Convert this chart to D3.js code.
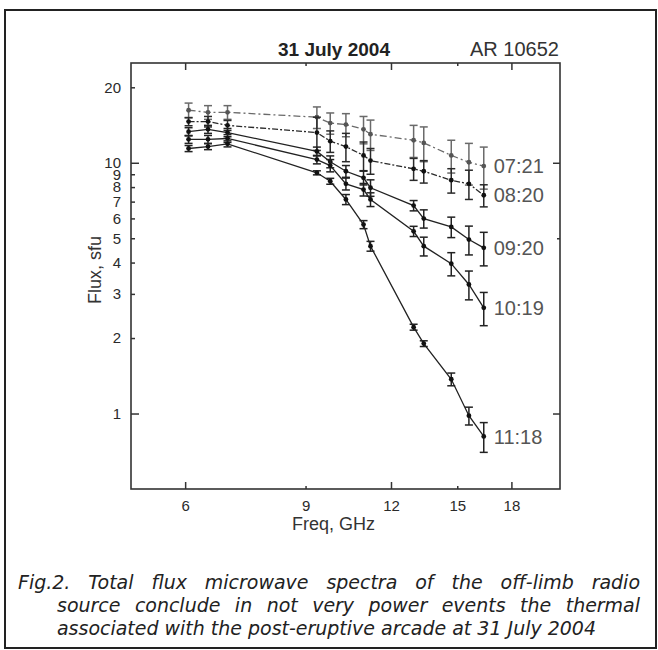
<!DOCTYPE html>
<html>
<head>
<meta charset="utf-8">
<script src="https://cdn.jsdelivr.net/npm/d3@7"></script>
<style>
  body { margin: 0; background: #fff; }
  svg { display: block; }
  text { font-family: "Liberation Sans", Arial, sans-serif; }
</style>
</head>
<body>
<svg id="chart" width="658" height="650"></svg>
<script>
// frequencies, GHz
let freqs = [6.07, 6.48, 6.92, 9.35, 9.78, 10.31, 10.94, 11.2, 12.95, 13.4, 14.7, 15.6, 16.4];

// flux, sfu, one array per time
let seriesNames = ["07:21", "08:20", "09:20", "10:19", "11:18"];
let flux0721 = [16.2, 15.9, 15.9, 15.2, 14.4, 14.2, 13.6, 13.0, 12.3, 12.0, 10.7, 10.05, 9.7];
let flux0820 = [14.6, 14.6, 14.1, 13.2, 12.2, 11.6, 10.7, 10.2, 9.46, 9.25, 8.52, 8.24, 7.42];
let flux0920 = [13.3, 13.6, 13.2, 11.1, 10.1, 9.25, 8.71, 7.95, 6.75, 5.99, 5.55, 4.94, 4.58];
let flux1019 = [12.4, 12.4, 12.5, 10.3, 9.75, 8.24, 7.82, 7.14, 5.33, 4.65, 3.96, 3.27, 2.64];
let flux1118 = [11.4, 11.6, 11.9, 9.12, 8.44, 7.14, 5.67, 4.65, 2.21, 1.90, 1.37, 0.98, 0.81];

// error (+/- sfu)
let err0721 = [1.1, 1.0, 1.0, 1.5, 1.4, 1.5, 1.7, 1.8, 1.8, 1.9, 1.6, 1.9, 1.85];
let err0820 = [0.55, 0.7, 0.65, 2.0, 1.2, 1.5, 1.4, 1.2, 0.95, 0.95, 0.95, 1.1, 0.75];
let err0920 = [0.5, 0.5, 0.5, 0.45, 0.55, 0.5, 0.55, 0.6, 0.32, 0.5, 0.52, 0.65, 0.7];
let err1019 = [0.45, 0.45, 0.45, 0.4, 0.55, 0.45, 0.45, 0.45, 0.25, 0.4, 0.42, 0.43, 0.4];
let err1118 = [0.32, 0.32, 0.33, 0.17, 0.23, 0.33, 0.21, 0.21, 0.06, 0.05, 0.08, 0.08, 0.11];

let xTicks = [6, 9, 12, 15, 18];
let xMajor = [6, 12, 18];
let yTicks = [1, 2, 3, 4, 5, 6, 7, 8, 9, 10, 20];
let yMajor = [1, 10];
let yRightTicks = [1, 5, 10];

let captionLines = [
  "Fig.2. Total flux microwave spectra of the off-limb radio",
  "source conclude in not very power events the thermal",
  "associated with the post-eruptive arcade at 31 July 2004"
];

let allFlux = [flux0721, flux0820, flux0920, flux1019, flux1118];
let allErr = [err0721, err0820, err0920, err1019, err1118];

let lineColor = ["#6a6a6a", "#2a2a2a", "#222", "#222", "#222"];
let lineDash = ["7,3,2,3", "6,2,2,2", null, null, null];

let pLeft = 131, pRight = 560, pTop = 63, pBottom = 489;

let svg = d3.select('#chart');

// outer frame
svg.append('rect')
  .attr('x', 5).attr('y', 10)
  .attr('width', 651).attr('height', 638)
  .style('fill', 'none')
  .style('stroke', '#222')
  .style('stroke-width', '2px');

let x = d3.scaleLog().domain([5, 21.2]).range([pLeft, pRight]);
let y = d3.scaleLog().domain([0.5, 25]).range([pBottom, pTop]);

// axes
let gLeft = svg.append('g')
  .attr('transform', `translate(${pLeft},0)`)
  .call(d3.axisLeft(y).tickValues(yTicks).tickFormat(d3.format('d')).tickSize(-4).tickPadding(10));
gLeft.selectAll('.tick line').attr('x2', d => yMajor.includes(d) ? 8 : 4);

let gRight = svg.append('g')
  .attr('transform', `translate(${pRight},0)`)
  .call(d3.axisRight(y).tickValues(yRightTicks).tickFormat('').tickSize(-4));
gRight.selectAll('.tick line').attr('x2', d => d == 5 ? -3 : -7);

let gBottom = svg.append('g')
  .attr('transform', `translate(0,${pBottom})`)
  .call(d3.axisBottom(x).tickValues(xTicks).tickFormat(d3.format('d')).tickSize(-4).tickPadding(11));
gBottom.selectAll('.tick line').attr('y2', d => xMajor.includes(d) ? -7 : -3);

let gTop = svg.append('g')
  .attr('transform', `translate(0,${pTop})`)
  .call(d3.axisTop(x).tickValues(xTicks).tickFormat('').tickSize(-4));
gTop.selectAll('.tick line').attr('y2', d => xMajor.includes(d) ? 7 : 3);

svg.selectAll('.domain').remove();
svg.selectAll('.tick line').style('stroke', '#333').style('stroke-width', '1.5px');

gLeft.selectAll('.tick text')
  .style('font-size', '15px')
  .style('fill', '#2a2a2a');
gBottom.selectAll('.tick text')
  .style('font-size', '15px')
  .style('fill', '#2a2a2a');

svg.append('rect')
  .attr('x', pLeft).attr('y', pTop)
  .attr('width', pRight - pLeft).attr('height', pBottom - pTop)
  .style('fill', 'none')
  .style('stroke', '#333')
  .style('stroke-width', '1.6px');

// series
let line = d3.line()
  .x((d, i) => x(freqs[i]))
  .y(d => y(d));

allFlux.forEach((vals, s) => {
  let g = svg.append('g').attr('class', 'series');
  g.append('path')
    .attr('d', line(vals))
    .style('fill', 'none')
    .style('stroke', lineColor[s])
    .style('stroke-width', '1.3px')
    .style('stroke-dasharray', lineDash[s]);

  let errs = allErr[s];
  let bars = g.selectAll('g.err')
    .data(vals)
    .enter()
    .append('g')
    .attr('class', 'err');
  bars.append('line')
    .attr('x1', (d, i) => x(freqs[i]))
    .attr('x2', (d, i) => x(freqs[i]))
    .attr('y1', (d, i) => y(d + errs[i]))
    .attr('y2', (d, i) => y(d - errs[i]));
  bars.append('line')
    .attr('x1', (d, i) => x(freqs[i]) - 4)
    .attr('x2', (d, i) => x(freqs[i]) + 4)
    .attr('y1', (d, i) => y(d + errs[i]))
    .attr('y2', (d, i) => y(d + errs[i]));
  bars.append('line')
    .attr('x1', (d, i) => x(freqs[i]) - 4)
    .attr('x2', (d, i) => x(freqs[i]) + 4)
    .attr('y1', (d, i) => y(d - errs[i]))
    .attr('y2', (d, i) => y(d - errs[i]));
  bars.selectAll('line')
    .style('stroke', lineColor[s])
    .style('stroke-width', '1.5px');

  g.selectAll('circle')
    .data(vals)
    .enter()
    .append('circle')
    .attr('cx', (d, i) => x(freqs[i]))
    .attr('cy', d => y(d))
    .attr('r', 2.4)
    .style('fill', s == 0 ? '#555' : '#111');

  let last = vals.length - 1;
  g.append('text')
    .attr('x', x(freqs[last]) + 10)
    .attr('y', y(vals[last]))
    .attr('dy', '0.36em')
    .style('font-size', '20px')
    .style('fill', '#555')
    .text(seriesNames[s]);
});

// titles
svg.append('text')
  .attr('x', 334).attr('y', 56)
  .attr('text-anchor', 'middle')
  .style('font-size', '19px')
  .style('font-weight', 'bold')
  .style('fill', '#222')
  .text('31 July 2004');

svg.append('text')
  .attr('x', 559).attr('y', 56)
  .attr('text-anchor', 'end')
  .style('font-size', '20px')
  .style('fill', '#333')
  .text('AR 10652');

svg.append('text')
  .attr('x', (pLeft + pRight) / 2 - 12).attr('y', 530)
  .attr('text-anchor', 'middle')
  .style('font-size', '18px')
  .style('fill', '#333')
  .text('Freq, GHz');

svg.append('text')
  .attr('transform', `translate(101,${(pTop + pBottom) / 2 - 6}) rotate(-90)`)
  .attr('text-anchor', 'middle')
  .style('font-size', '18px')
  .style('fill', '#333')
  .text('Flux, sfu');

// caption, justified by word spacing
let capX = [18, 57, 57];
let capW = [622, 583, 539];
let caps = svg.selectAll('text.caption')
  .data(captionLines)
  .enter()
  .append('text')
  .attr('class', 'caption')
  .attr('x', (d, i) => capX[i])
  .attr('y', (d, i) => 589 + i * 23)
  .style('font-family', '"DejaVu Sans", sans-serif')
  .style('font-style', 'italic')
  .style('font-size', '17px')
  .style('fill', '#222')
  .text(d => d);

let lastLen = caps.filter((d, i) => i == 2).node().getComputedTextLength();
let capSize = 17 * capW[2] / lastLen;
caps.style('font-size', capSize + 'px');
caps.each(function(d, i) {
  let len = this.getComputedTextLength();
  let spaces = d.split(' ').length - 1;
  d3.select(this).style('word-spacing', ((capW[i] - len) / spaces) + 'px');
});
</script>
</body>
</html>
